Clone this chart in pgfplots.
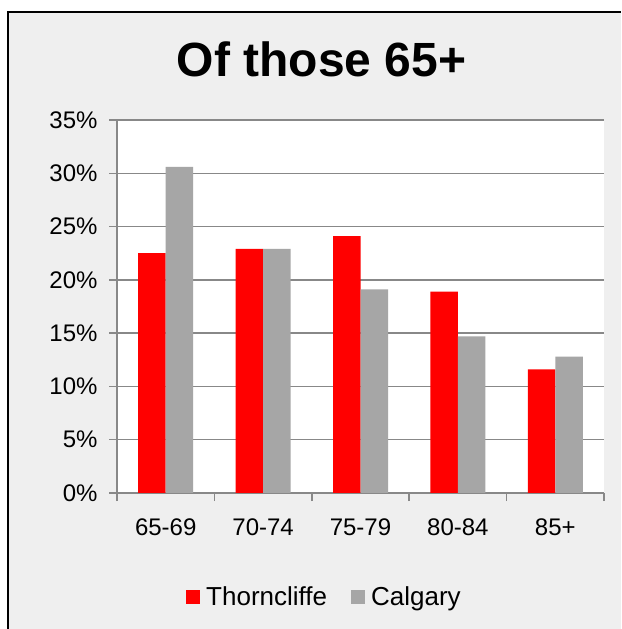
\documentclass[border=0pt]{standalone}
\usepackage{fontspec}
\setmainfont{Liberation Sans}
\usepackage{pgfplots}
\pgfplotsset{compat=1.18}
\definecolor{bg}{HTML}{EFEFEF}
\definecolor{barred}{HTML}{FF0000}
\definecolor{bargray}{HTML}{A6A6A6}
\definecolor{gridgray}{HTML}{888888}
\begin{document}
\begin{tikzpicture}
\useasboundingbox (0,0) rectangle (621pt,629pt);
\fill[white] (0,0) rectangle (621pt,629pt);
\fill[bg] (8pt,0) rectangle (621pt,617pt);
\draw[black, line width=2.5pt] (8pt,0) -- (8pt,617pt) -- (621pt,617pt);
\node[font=\bfseries\fontsize{48}{56}\selectfont, anchor=base, inner sep=0pt] at (321.5pt,552.5pt) {Of those 65+};
\begin{axis}[
  at={(117pt,136pt)}, anchor=south west,
  scale only axis, width=487pt, height=373pt,
  xmin=-0.5, xmax=4.5, ymin=0, ymax=35,
  axis background/.style={fill=white},
  ybar=0pt, bar width=27.5pt,
  axis x line=bottom, axis y line=left,
  axis line style={-, draw=gridgray, line width=1.5pt},
  tick align=outside,
  ytick={0,5,...,35},
  yticklabels={0\%,5\%,10\%,15\%,20\%,25\%,30\%,35\%},
  xtick={0,1,2,3,4},
  xticklabels={65-69,70-74,75-79,80-84,85+},
  major x tick style={draw=none},
  minor xtick={-0.5,0.5,1.5,2.5,3.5,4.5},
  minor tick length=8pt, major tick length=8pt,
  tick style={draw=gridgray, line width=1.5pt},
  ymajorgrids,
  major grid style={draw=gridgray, line width=1.5pt},
  tick label style={font=\fontsize{24}{28}\selectfont, text=black},
  xticklabel style={yshift=-14pt},
  yticklabel style={xshift=-8pt},
  legend style={at={(0.1417,-0.2788)}, anchor=west, draw=none, fill=none,
    font=\fontsize{26}{30}\selectfont, inner sep=0pt,
    /tikz/every odd column/.append style={column sep=4pt},
    /tikz/every even column/.append style={column sep=22pt}},
  legend columns=2,
  legend image code/.code={\fill[#1] (0pt,-7pt) rectangle (14pt,7pt);},
]
\addplot[fill=barred, draw=none] coordinates {(0,22.5) (1,22.9) (2,24.1) (3,18.9) (4,11.6)};
\addplot[fill=bargray, draw=none] coordinates {(0,30.6) (1,22.9) (2,19.1) (3,14.7) (4,12.8)};
\legend{Thorncliffe, Calgary}
\end{axis}
\end{tikzpicture}
\end{document}
